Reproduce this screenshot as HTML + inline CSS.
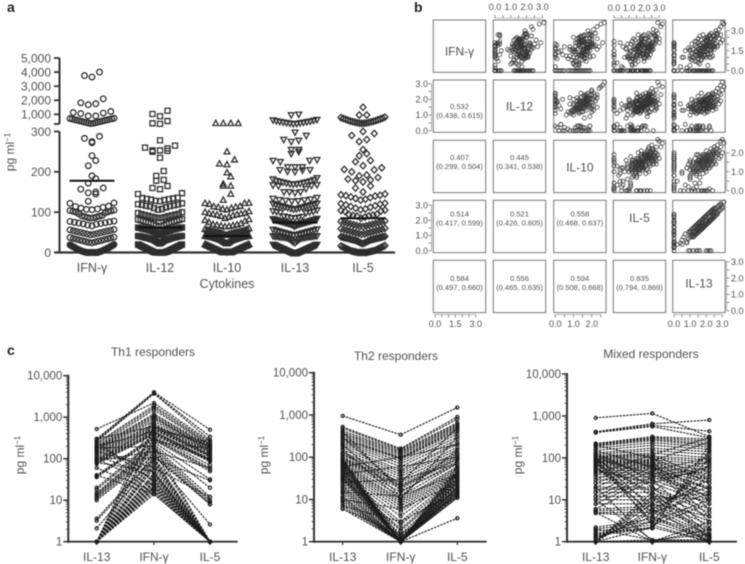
<!DOCTYPE html>
<html>
<head>
<meta charset="utf-8">
<style>
html,body{margin:0;padding:0;background:#fff;width:745px;height:564px;overflow:hidden}
svg{display:block;filter:blur(0.4px)}
text{font-family:"Liberation Sans",sans-serif;fill:#505050}
.pl{font-weight:bold;fill:#222;font-size:14px}
</style>
</head>
<body>
<svg id="fig" width="745" height="564" viewBox="0 0 745 564" xmlns="http://www.w3.org/2000/svg">
<rect width="745" height="564" fill="#fff"/>
<text class="pl" x="7" y="12">a</text>
<text class="pl" x="414" y="12">b</text>
<text class="pl" x="7" y="355">c</text>
<text x="14" y="152" font-size="12" text-anchor="middle" transform="rotate(-90 14 152)">pg ml<tspan dy="-4" font-size="8">−1</tspan></text>
<text x="227" y="288" font-size="12.5" text-anchor="middle">Cytokines</text>
<text x="153" y="356" font-size="12" text-anchor="middle">Th1 responders</text>
<text x="396" y="360" font-size="12" text-anchor="middle">Th2 responders</text>
<text x="651" y="358" font-size="12" text-anchor="middle">Mixed responders</text>
<text x="24" y="455" font-size="12" text-anchor="middle" transform="rotate(-90 24 455)">pg ml<tspan dy="-4" font-size="8">−1</tspan></text>
<text x="268" y="455" font-size="12" text-anchor="middle" transform="rotate(-90 268 455)">pg ml<tspan dy="-4" font-size="8">−1</tspan></text>
<text x="522" y="455" font-size="12" text-anchor="middle" transform="rotate(-90 522 455)">pg ml<tspan dy="-4" font-size="8">−1</tspan></text>
</svg>
<script>
/* ---------- panel a data ---------- */
const swarmCategories = ['IFN-γ','IL-12','IL-10','IL-13','IL-5'];
const swarmLowerTicks = [0,100,200,300];
const swarmUpperTicks = [1000,2000,3000,4000,5000];
const swarmMeans = [178,62,41,74,85];
const ifngValues = [0,0,0,0,0,0,0,0,0,0,0,0,0,0,1,1,1,2,2,2,3,3,3,4,4,5,5,6,6,7,7,8,8,9,9,10,10,11,12,12,13,13,14,15,15,16,16,17,18,18,19,20,
24,25,26,27,28,29,30,31,32,33,34,35,36,37,38,
44,45,46,47,48,49,50,51,52,53,54,55,56,57,
66,68,70,71,72,73,74,75,76,77,78,
85,86,87,88,89,90,91,92,
96,98,100,101,102,103,104,105,106,107,108,110,112,114,115,
122,123,127,145,148,150,157,160,172,183,190,215,228,240,272,275,283,288,
340,360,380,400,420,440,460,480,500,520,540,560,580,600,620,640,660,680,700,720,
880,880,1050,1090,1120,1200,1680,1750,1820,2100,3650,3750,4000];
const il12Values = [0,0,0,0,0,0,0,0,0,0,0,0,1,1,1,2,2,2,3,3,4,4,5,5,6,6,7,7,8,8,9,9,10,10,11,11,12,12,13,13,14,14,15,15,16,16,17,17,18,18,19,19,20,20,
22,23,24,25,26,27,28,29,30,31,31,32,32,33,33,34,34,35,35,36,36,36,37,37,38,38,38,39,39,39,40,40,40,41,41,41,41,
43,44,45,46,47,48,49,50,50,51,51,52,52,53,53,54,54,55,55,56,56,57,57,57,58,58,58,59,59,59,60,60,60,61,61,61,62,62,62,
64,65,67,68,70,71,72,73,74,75,76,77,78,79,80,81,82,83,
85,86,87,88,89,90,91,92,93,94,95,96,98,100,
106,108,110,112,114,115,116,117,118,119,120,122,
127,128,130,131,132,133,134,135,136,
145,147,157,160,165,178,180,190,202,235,250,252,253,253,258,260,265,278,
320,360,520,860,1020,1250];
const il10Values = [0,0,0,0,0,0,0,0,0,0,1,1,2,2,3,3,4,4,5,5,6,6,7,7,8,8,9,9,10,10,11,11,12,12,13,13,14,14,15,15,16,16,17,17,18,18,19,19,20,20,
22,23,24,25,26,27,28,29,30,31,31,32,32,33,33,34,34,35,35,36,36,37,37,37,38,38,38,39,39,39,40,40,40,41,41,41,41,
43,44,45,46,47,47,48,48,49,49,50,50,51,51,52,52,53,53,54,54,55,55,56,57,58,60,
64,65,66,67,68,69,70,72,75,78,80,82,
85,88,90,92,93,94,95,96,97,98,100,102,
106,108,110,112,113,114,115,120,122,122,123,
130,145,165,165,170,188,198,218,220,230,250,360,360,360,360];
const il13Values = [0,0,0,0,0,0,0,0,0,0,1,1,2,2,3,3,4,4,5,5,6,6,7,7,8,8,9,9,10,10,11,11,12,12,13,13,14,14,15,15,16,16,17,17,18,18,19,19,20,20,
24,26,28,30,32,34,35,36,36,37,37,38,38,38,39,39,39,40,40,40,41,41,41,
43,44,45,46,47,48,49,50,51,52,53,54,55,56,57,58,
65,67,68,69,70,70,71,71,72,72,73,73,74,74,75,75,76,76,77,77,78,78,79,79,80,80,81,81,82,82,83,84,
85,86,87,88,89,90,98,99,100,101,102,103,105,
107,108,109,110,111,112,113,114,115,116,117,118,119,120,121,122,
127,128,129,130,131,132,134,136,
148,150,150,150,158,165,166,167,168,
169,170,170,171,172,173,174,175,176,177,178,180,182,185,
200,201,204,205,205,212,212,212,225,228,228,230,245,250,255,255,275,278,280,290,298,
320,340,360,380,400,420,440,460,480,500,530,560,590,620,950,1000];
const il5Values = [0,0,0,0,0,0,1,1,2,2,3,3,4,4,5,6,7,8,9,10,11,12,13,14,15,16,17,
22,23,24,25,26,27,28,29,30,31,31,32,32,33,33,34,34,35,35,36,36,37,37,38,38,39,39,
40,45,46,47,48,49,50,51,52,53,54,55,56,57,58,59,60,
64,65,66,67,68,69,70,71,72,73,74,75,76,77,78,
85,88,90,91,92,93,94,95,
102,103,104,105,106,108,110,112,114,116,118,120,121,122,
130,132,134,136,138,140,141,142,143,145,
160,165,150,175,178,180,182,186,190,192,200,205,206,210,215,225,228,240,245,255,275,280,290,295,300,
350,360,370,380,400,420,440,460,480,500,520,550,580,610,640,670,700,730,760,800,950,950,1500];

/* ---------- panel b data: log10 values per subject ---------- */
const matrixNames = ['IFN-γ','IL-12','IL-10','IL-5','IL-13'];
const logIfng = [0,1.2,0,0.6,0,0.3,1.0,0,1.5,0.2,
0,1.7,0.4,1.1,0,2.0,0.8,1.3,0,1.0,
1.6,0,0.7,2.2,1.2,0,1.4,1.8,0,0.9,
1.1,2.4,0,1.6,1.3,0.5,1.9,0,2.6,1.5,
0.9,1.7,0,1.2,2.1,1.4,0,1.8,1.0,2.7,
0,1.6,2.0,1.1,1.4,2.3,1.8,0,1.0,2.0,
2.5,1.3,1.9,0,1.6,2.2,1.2,2.7,1.8,1.0,
2.1,0,1.5,2.4,1.9,1.3,2.8,1.7,2.2,0,
2.0,1.1,2.6,1.8,2.3,1.6,3.0,2.0,2.5,1.9,
2.8,1.8,2.4,3.1,2.1,2.7,3.3,2.3,3.6,3.5,
2.1,0,1.6,0.9,2.0,0,1.1,1.8,1.9,0.7,1.5,0,
0,1.5,0,2.2,0.6,1.2,0,0.4,1.9,1.0,
1.9,0,1.5,2.3,1.7,0,1.8,2.0,1.4,0,
0.8,2.4,1.9,0,1.6,2.1,0,1.2,2.5,1.9,
0,1.3,1.7,2.2,0,2.6,1.8,1.5,0,2.0,
1.0,0,1.6,1.9,0,2.4,2.1,2.8,1.1,1.7,
1.8,0.5,1.2,2.0,0,1.0,0,1.6,0,0.7,
1.9,0,1.4,2.2,2.6,0,1.3,1.7,2.3,0,
0.9,0,1.1,1.8,2.0,0,2.4,2.7,1.4,1.6];
const logIl12 = [0,0.3,0,1.1,0.2,1.7,0,1.3,0.4,0,
1.4,1.6,0,1.0,1.5,0.3,1.2,2.0,0,1.6,
1.3,0,1.7,1.4,1.9,0.2,1.5,1.1,0,1.8,
1.6,1.3,2.2,0,1.7,1.4,1.9,1.2,0.3,1.5,
1.8,2.4,1.5,0,1.6,1.9,1.3,1.7,2.0,0.2,
1.4,1.8,1.1,1.6,2.1,1.5,0,1.9,1.7,1.3,
2.0,1.6,1.2,1.8,2.3,1.5,1.9,0.3,1.7,2.1,
1.4,1.8,2.0,1.6,0,2.2,1.9,1.5,1.7,2.4,
1.3,2.0,1.8,2.3,1.6,2.1,1.9,2.5,1.4,2.2,
2.0,2.7,1.7,2.4,2.9,1.9,2.3,2.6,3.1,2.8,
0,1.4,0.8,1.9,0.1,1.6,2.1,1.2,0,1.7,0.9,2.3,
1.6,0,1.8,0.3,1.3,2.0,0,1.5,0.2,1.9,
1.5,1.8,1.3,1.9,1.6,2.1,1.7,1.4,0,1.6,
1.2,1.8,2.2,1.5,1.9,0.2,1.7,1.4,2.0,1.6,
1.3,0,1.9,1.5,1.8,2.3,1.6,1.1,0.3,1.9,
1.4,1.7,1.2,1.8,2.0,1.5,2.2,1.9,0,1.7,
0,1.0,1.6,2.2,0.4,1.3,0,1.7,1.5,0.2,
1.8,1.4,2.0,1.6,2.3,0.3,1.5,1.9,1.2,2.1,
0.1,1.6,1.9,1.4,1.7,2.4,1.5,2.0,1.2,1.8];
const logIl10 = [0.8,0,0.2,1.3,0.5,0,1.0,0.9,0.3,1.2,
1.4,0,1.1,0.6,1.6,1.3,0.9,0,1.5,1.0,
1.2,0.4,1.7,1.3,0,1.5,1.1,0.8,1.4,1.6,
1.9,1.2,0,1.0,1.5,1.3,1.8,0.7,1.4,1.1,
1.6,0,1.3,1.7,1.2,1.5,0.9,1.4,1.9,1.6,
1.1,1.5,0,1.3,1.7,1.4,1.8,1.2,1.6,2.1,
1.0,1.5,1.3,1.8,0,1.6,1.4,1.9,1.7,1.2,
2.0,1.5,1.7,1.3,1.9,1.6,2.2,0,1.4,1.8,
1.7,2.1,1.5,1.9,1.6,2.3,1.8,2.0,1.4,2.2,
1.9,2.4,1.7,2.1,2.6,1.8,2.3,2.0,2.7,2.5,
1.1,0.3,1.6,0.1,1.8,1.4,0.8,2.0,1.5,1.2,1.9,1.7,
0.2,1.5,0.1,1.9,1.0,0.4,1.7,1.3,0.1,1.6,
1.3,1.6,1.1,1.5,1.8,1.4,1.7,1.3,0.2,1.2,
1.5,1.9,1.6,1.2,1.8,1.4,0,1.6,1.3,2.0,
1.1,1.4,1.7,1.5,1.9,1.6,2.1,0.9,1.3,0,
1.2,1.0,1.5,1.3,1.7,1.9,1.6,2.2,1.4,1.8,
0.5,1.0,1.3,1.7,0.3,0,1.2,0.8,1.4,1.1,
1.6,1.3,1.8,1.5,2.0,1.2,0,1.7,1.4,1.9,
0.7,1.2,1.5,1.1,1.8,1.4,2.3,2.0,1.0,1.6];
const logIl5 = [0.3,0,0.5,0.2,0.4,0.5,0.7,0.4,1.1,0.6,
1.2,0.8,1.2,0.9,1.3,0.9,1.4,1.0,1.5,1.0,
1.5,1.1,1.6,1.2,1.5,1.2,1.7,1.3,1.6,1.3,
1.8,1.3,1.8,1.4,1.9,1.4,1.8,1.5,1.9,1.5,
2.0,1.5,1.9,1.6,2.0,1.6,2.1,1.6,2.1,1.6,
2.2,1.7,2.2,1.7,2.2,1.8,2.2,1.8,2.3,1.8,
2.3,1.9,2.4,1.9,2.4,1.9,2.4,2.0,2.5,2.0,
2.5,2.0,2.5,2.1,2.6,2.1,2.6,2.2,2.6,2.3,
2.7,2.2,2.7,2.3,2.8,2.3,2.8,2.4,2.8,2.5,
2.9,2.5,3.0,2.6,3.0,2.7,3.1,2.8,2.9,3.2,
0.4,0.6,0.8,1.0,1.1,1.3,1.5,1.6,1.8,2.0,2.2,2.4,
0,0,0,0,0,0,0,0,0,0,
1.6,1.2,1.9,1.4,2.1,1.6,2.3,1.8,1.1,1.9,
1.4,2.2,1.7,1.9,2.6,1.8,1.5,2.2,1.8,2.1,
1.5,1.3,2.0,1.7,2.4,1.9,2.2,1.7,2.1,1.7,
1.4,1.0,1.8,1.4,2.2,1.8,2.6,2.3,1.3,2.2,
0.6,1.2,1.9,2.3,0.2,0.9,0.5,1.3,0.9,1.1,
1.9,1.5,2.3,1.9,2.7,1.2,2.0,1.5,2.3,2.0,
1.2,0.9,1.7,1.6,2.4,2.1,2.8,2.4,1.6,2.5];
const logIl13 = [0,0,0,0,0.2,0.4,0.5,0.5,0.7,0.8,
0.9,0.9,1.0,1.0,1.0,1.1,1.1,1.1,1.2,1.2,
1.2,1.3,1.3,1.3,1.3,1.4,1.4,1.4,1.4,1.5,
1.5,1.5,1.5,1.5,1.6,1.6,1.6,1.6,1.6,1.7,
1.7,1.7,1.7,1.7,1.8,1.8,1.8,1.8,1.8,1.8,
1.9,1.9,1.9,1.9,1.9,2.0,2.0,2.0,2.0,2.0,
2.0,2.1,2.1,2.1,2.1,2.1,2.1,2.2,2.2,2.2,
2.2,2.2,2.3,2.3,2.3,2.3,2.3,2.4,2.4,2.4,
2.4,2.4,2.5,2.5,2.5,2.5,2.6,2.6,2.6,2.7,
2.7,2.7,2.8,2.8,2.9,2.9,2.9,3.0,3.0,3.1,
0,0,0,0,0,0,0,0,0,0,0,0,
0.9,1.0,1.2,1.4,1.5,1.6,2.0,2.1,2.2,2.3,
1.3,1.5,1.6,1.7,1.8,1.9,2.0,2.1,1.4,1.6,
1.7,1.9,2.0,2.2,2.3,1.5,1.8,1.9,2.1,2.4,
1.2,1.6,1.7,2.0,2.1,2.2,2.5,1.4,1.8,2.0,
1.1,1.3,1.5,1.7,1.9,2.1,2.3,2.6,1.6,1.9,
0,0,0,0,0,0.6,0.8,1.0,1.2,1.4,
1.6,1.8,2.0,2.2,2.4,1.5,1.7,1.8,2.0,2.3,
1.0,1.2,1.4,1.9,2.1,2.4,2.5,2.7,1.3,2.2];
const corrEstimates = ['0.532','0.407','0.445','0.514','0.521','0.558','0.584','0.556','0.594','0.835'];
const corrIntervals = ['(0.438, 0.615)','(0.299, 0.504)','(0.341, 0.538)','(0.417, 0.599)','(0.426, 0.605)','(0.468, 0.637)','(0.497, 0.660)','(0.465, 0.635)','(0.508, 0.668)','(0.794, 0.869)'];

/* ---------- panel c data ---------- */
const responderCategories = ['IL-13','IFN-γ','IL-5'];
const logTickLabels = ['1','10','100','1,000','10,000'];
const th1IL13 = [300,280,260,520,240,220,200,190,180,170,
160,150,140,130,120,110,100,95,90,85,
80,75,40,38,36,20,18,15,14,13,
12,11,10,3.6,3.2,2.1,1,1,1,1,
1,1,1,1,1,1,1,1,1,1,
1,1,1,1,1,1,1,100,150,80,
200,120,250,100,60,40,180,90,300,200];
const th1IFN = [4000,3800,3700,2200,1900,1700,1500,1200,1100,1000,
900,800,700,650,600,550,520,500,450,420,
400,380,350,320,300,280,250,220,200,180,
160,140,120,110,100,90,80,70,600,300,
150,1000,500,250,100,60,45,40,35,30,
28,25,22,20,18,16,14,100,60,50,
45,35,28,22,16,14,200,150,600,450];
const th1IL5 = [500,340,280,260,240,220,210,200,190,180,
170,160,150,140,130,120,115,110,100,95,
90,85,70,60,55,50,32,20,12,10,
9,8,8,8,2.6,1,1,1,200,100,
60,150,250,180,30,12,1,1,1,1,
1,1,1,1,1,1,1,1,1,1,
1,1,1,1,1,1,1,1,120,90];
const th2IL13 = [950,520,480,420,380,350,320,290,270,250,
230,210,190,170,150,130,120,110,100,95,
90,85,80,75,70,65,60,55,50,45,
40,38,35,32,30,28,25,22,20,18,
16,14,12,11,10,9,8,7,6,85,
80,75,70,65,60,55,50,45,40,35,
30,90,300,400,200,150,120,60,40,25,
15,10,7,6];
const th2IFN = [340,160,150,140,130,120,110,100,95,90,
80,70,60,50,45,40,35,30,25,22,
20,18,15,12,10,9,8,7,6,5,
4,3,2.5,2,1.8,1.5,1.3,1.2,1.1,1,
1,1,1,1,1,1,1,1,1,1,
1,1,1,1,1,1,1,1,1,1,
1,1.2,20,16,12,10,25,100,60,30,
12,6,3,1.5];
const th2IL5 = [1500,900,800,650,600,560,520,480,440,400,
350,300,260,220,200,170,150,130,120,110,
100,90,80,70,60,55,50,45,42,40,
38,35,32,30,28,25,22,20,18,16,
15,14,13,12,11,11,3.6,20,30,40,
50,60,38,45,33,28,24,20,18,16,
14,25,90,70,150,300,500,200,100,70,
40,25,15,12];
const mixIL13 = [900,420,410,400,220,210,200,190,170,150,
130,120,110,105,100,95,90,85,80,75,
70,65,60,55,50,45,40,35,30,25,
20,18,15,12,10,8,6,5.5,5,4.8,
2.2,2,1.8,1.6,1.5,1.4,1.3,1.2,1.1,1,
1,1,1,1,1,1,1,2,5,10,
20,100,120,130,110,90,70,60,50,40,
30,25,20,15,12,10,8,6,100,80,
60,200,150,100];
const mixIFN = [1150,650,600,560,320,300,280,260,230,200,
170,150,130,120,110,100,90,85,80,75,
70,65,60,55,50,45,40,35,30,25,
20,18,15,12,10,8,7,6,5,4,
3.5,3,2.5,2.2,2.1,2.1,3,4,5,6,
8,10,12,15,2.2,1.1,1,1.1,1,1.1,
1,12,20,30,6,4,15,8,25,120,
100,80,70,60,50,40,35,30,2.5,3,
5,100,60,40];
const mixIL5 = [320,800,430,300,280,250,220,200,180,160,
140,120,100,300,90,80,70,240,60,50,
40,35,30,25,20,18,15,12,10,8,
6,5,4,3,2.5,2,1.8,1.5,1.4,1.3,
1.2,1.1,1,1,200,150,100,70,50,30,
20,15,10,120,40,1,1,1.1,2,1.5,
3,1.2,1.5,2,1,1,1.3,4,60,30,
10,6,4,3,100,80,60,50,8,10,
14,25,18,12];

/* ---------- helpers ---------- */
const NS = 'http://www.w3.org/2000/svg';
const fig = document.getElementById('fig');
function mk(tag, attrs, txt){
  const e = document.createElementNS(NS, tag);
  for (const k in attrs) e.setAttribute(k, attrs[k]);
  if (txt !== undefined) e.textContent = txt;
  fig.appendChild(e);
  return e;
}
function axisLine(x1,y1,x2,y2,w,col){
  const el = mk('line',{x1,y1,x2,y2,stroke:col||'#333','stroke-width':w});
  
  
  return el;
}
function tickText(x,y,s,size,anchor){
  const el = mk('text',{x,y,'font-size':size,'text-anchor':anchor},s);
  
  
  return el;
}

/* ---------- panel a ---------- */
const aY0 = 252.5, aLow = 121/300, aK = 114.3, aHigh = 14.07/1000, aRowLow = 8.5, aRowHigh = 9, aRowTop = 71.5;
const aCenters = [92,160,227,295,363];
function yA(v){ return v <= 300 ? aY0 - v*aLow : aK - (v-1000)*aHigh; }
function xCatA(i){ return aCenters[i]; }
function markerPath(kind,x,y){
  const r = 2.8;
  if (kind === 'square') return `M${x-2.5} ${y-2.5}h5v5h-5z`;
  if (kind === 'up') return `M${x} ${y-3.1}L${x+2.9} ${y+2.2}H${x-2.9}Z`;
  if (kind === 'down') return `M${x} ${y+3.1}L${x+2.9} ${y-2.2}H${x-2.9}Z`;
  if (kind === 'diamond') return `M${x} ${y-r-.4}L${x+r+.2} ${y}L${x} ${y+r+.4}L${x-r-.2} ${y}Z`;
  return `M${x-r} ${y}a${r} ${r} 0 1 0 ${2*r} 0a${r} ${r} 0 1 0 ${-2*r} 0Z`;
}
function swarm(values,i,kind,name){
  const bins = {};
  values.forEach(v=>{
    const key = v <= 300 ? 'l'+Math.floor(v*aLow/aRowLow) : 'u'+Math.floor((yA(v)-aRowTop)/aRowHigh);
    (bins[key] = bins[key] || []).push(v);
  });
  Object.values(bins).forEach(b=>{
    b.sort((p,q)=>p-q);
    const n = b.length, sp = n > 1 ? Math.min(7.5,44/(n-1)) : 0;
    const offs = b.map((_,k)=>(k-(n-1)/2)*sp).sort((p,q)=>Math.abs(p)-Math.abs(q));
    b.forEach((v,k)=>{
      const el = mk('path',{d:markerPath(kind,xCatA(i)+offs[k],yA(v)),fill:'none',stroke:'#2e2e2e','stroke-width':1.3});
      
      
    });
  });
}
axisLine(59.5,58,59.5,124,2);
axisLine(59.5,131.5,59.5,253,2);
axisLine(55,252.5,395,252.5,2.2);
swarmLowerTicks.forEach(t=>{ axisLine(54,yA(t),59.5,yA(t),1.8); tickText(51,yA(t)+4.3,String(t),12,'end'); });
swarmUpperTicks.forEach(t=>{ axisLine(54,yA(t),59.5,yA(t),1.8); tickText(51,yA(t)+4.3,t.toLocaleString('en-US'),12,'end'); });
axisLine(54,124,59.5,124,1.8);
swarm(ifngValues,0,'circle','ifn-gamma-point');
swarm(il12Values,1,'square','il-12-point');
swarm(il10Values,2,'up','il-10-point');
swarm(il13Values,3,'down','il-13-point');
swarm(il5Values,4,'diamond','il-5-point');
swarmCategories.forEach((c,i)=>{
  axisLine(xCatA(i),252.5,xCatA(i),256,1.2);
  const t = tickText(xCatA(i),272,c,12.5,'middle');
  const m = axisLine(xCatA(i)-22.5,yA(swarmMeans[i]),xCatA(i)+22.5,yA(swarmMeans[i]),2,'#111');
  
});

/* ---------- panel b ---------- */
const cellX = [433.3,493.3,553.7,613.3,672.7], cellY = [20,80,140.3,200.3,260.3], cellW = 52.4, cellH = 52.3;
const logSeries = [logIfng,logIl12,logIl10,logIl5,logIl13];
const xOrigin = [435,495,555.3,614,674], xUnit = [13.6,15.8,18.2,15.1,16.1];
const yOrigin = [70.7,130.7,190.7,250.7,310.7], yUnit = [13.33,15.67,19,15.2,16.3];
const diagShift = [5,0,0.5,-8.7,-3.3];
const corrShift = [5,-4.3,-8,-3.3];
function xM(k,v){ return xOrigin[k] + v*xUnit[k]; }
function yM(k,v){ return yOrigin[k] - v*yUnit[k]; }
let corrIndex = 0;
for (let r = 0; r < 5; r++) for (let c = 0; c < 5; c++){
  const box = mk('rect',{x:cellX[c],y:cellY[r],width:cellW,height:cellH,fill:'none',stroke:'#777','stroke-width':1});
  
  
  const cx = cellX[c]+cellW/2, cy = cellY[r]+cellH/2;
  if (r === c){
    const d = mk('text',{x:cx,y:cy+4.3+diagShift[r],'font-size':12,'text-anchor':'middle'},matrixNames[r]);
    
    
  } else if (c > r){
    logSeries[c].forEach((v,n)=>{
      const p = mk('circle',{cx:xM(c,v),cy:yM(r,logSeries[r][n]),r:2,fill:'none',stroke:'#333','stroke-width':.75});
      
      
    });
  } else {
    const sh = corrShift[r-1];
    const a = mk('text',{x:cx,y:cy+sh-2,'font-size':7.5,'text-anchor':'middle'},corrEstimates[corrIndex]);
    
    
    const b = mk('text',{x:cx,y:cy+sh+7,'font-size':7.5,'text-anchor':'middle'},corrIntervals[corrIndex]);
    
    
    corrIndex++;
  }
}
function mTicksX(k,yLine,dir,maxV,labels,yLab){
  axisLine(xM(k,0),yLine,xM(k,maxV),yLine,.6,'#777');
  for (let v = 0; v <= maxV+.001; v += .5) axisLine(xM(k,v),yLine,xM(k,v),yLine+dir*3,.7,'#666');
  labels.forEach(v=>tickText(xM(k,v),yLab,v.toFixed(1),9,'middle'));
}
function mTicksY(k,xLine,dir,maxV,labels,xLab,anchor){
  axisLine(xLine,yM(k,0),xLine,yM(k,maxV),.6,'#777');
  for (let v = 0; v <= maxV+.001; v += .5) axisLine(xLine,yM(k,v),xLine+dir*3,yM(k,v),.7,'#666');
  labels.forEach(v=>tickText(xLab,yM(k,v)+3.2,v.toFixed(1),9,anchor));
}
mTicksX(1,18,-1,3,[0,1,2,3],10);
mTicksX(3,18,-1,3,[0,1,2,3],11);
mTicksX(0,314.5,1,3,[0,1.5,3],327);
mTicksX(2,314.5,1,2.5,[0,1,2],327);
mTicksX(4,314.5,1,3,[0,1,2,3],327);
mTicksY(1,431.5,-1,3,[0,1,2,3],428,'end');
mTicksY(3,431.5,-1,3,[0,1,2,3],428,'end');
mTicksY(0,726.5,1,3,[0,1.5,3],731,'start');
mTicksY(2,726.5,1,2,[0,1,2],731,'start');
mTicksY(4,726.5,1,3,[0,1,2,3],731,'start');

/* ---------- panel c ---------- */
function responderPlot(axisX,endX,topY,centers,s1,s2,s3,labelY){
  const dec = (541.7-topY)/4;
  const yL = v => 541.7 - Math.log10(v)*dec;
  const xC = i => centers[i];
  axisLine(axisX,topY-1,axisX,542.7,2);
  axisLine(axisX-1,541.7,endX,541.7,1.8);
  for (let d = 0; d < 4; d++) for (let m = 2; m < 10; m++) axisLine(axisX-2.5,yL(m*Math.pow(10,d)),axisX,yL(m*Math.pow(10,d)),.8);
  logTickLabels.forEach((t,d)=>{
    axisLine(axisX-5,yL(Math.pow(10,d)),axisX,yL(Math.pow(10,d)),1.5);
    tickText(axisX-6,yL(Math.pow(10,d))+4,t,11.5,'end');
  });
  responderCategories.forEach((c,i)=>{
    axisLine(xC(i),541.7,xC(i),545,1.2);
    tickText(xC(i),labelY,c,12,'middle');
  });
  s1.forEach((v,n)=>{
    const vals = [v,s2[n],s3[n]];
    const line = mk('polyline',{points:vals.map((w,i)=>xC(i)+','+yL(w)).join(' '),fill:'none',stroke:'#1c1c1c','stroke-width':1.1,'stroke-dasharray':'2.4 1'});
    
    
    vals.forEach((w,i)=>{
      const p = mk('circle',{cx:xC(i),cy:yL(w),r:1.6,fill:'none',stroke:'#1c1c1c','stroke-width':1.1});
      
      
    });
  });
}
responderPlot(68.3,237.7,375.7,[96.7,154,210],th1IL13,th1IFN,th1IL5,561);
responderPlot(314,486.7,372.7,[342.7,400.7,457.3],th2IL13,th2IFN,th2IL5,561);
responderPlot(567,737,374,[595.7,652.3,709.3],mixIL13,mixIFN,mixIL5,561);
</script>
</body>
</html>
